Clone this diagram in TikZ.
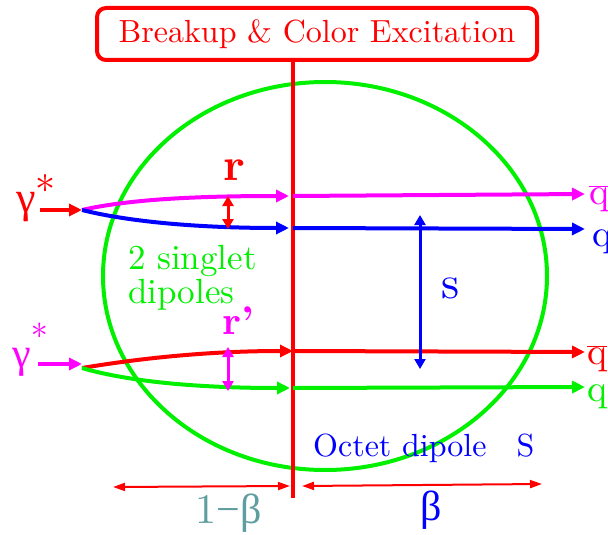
\documentclass[tikz,border=0pt]{standalone}
\usepackage{fontspec}
\usetikzlibrary{arrows.meta,positioning}
\setmainfont{lmroman10-regular}[Extension=.otf,BoldFont=lmroman10-bold]
\newfontfamily\grk{Liberation Serif}
\definecolor{Red}{HTML}{FF0000}
\definecolor{Green}{HTML}{00F000}
\definecolor{Magenta}{HTML}{FF00FF}
\definecolor{Blue}{HTML}{0000FF}
\definecolor{Teal}{HTML}{5F9EA0}
\newcommand{\fs}[1]{\fontsize{#1}{#1}\selectfont}
\newcommand{\photon}[3]{{\fs{#1}\grk γ}\raisebox{#3}{\fs{#2}*}}
\tikzset{
  track/.style={line width=4pt,-{Triangle[length=13pt,width=12pt]}},
  gap/.style={line width=3pt,{Triangle[length=10pt,width=11pt]}-{Triangle[length=10pt,width=11pt]}},
  span/.style={line width=2pt,Red,{Triangle[length=12pt,width=8pt]}-{Triangle[length=12pt,width=8pt]}},
  lbl/.style={inner sep=0pt,font=\fs{32}},
}

\begin{document}
\begin{tikzpicture}[x=1pt,y=-1pt]
  \useasboundingbox (0,0) rectangle (608,535);
  % cut and colour cloud
  \node[draw=Red,line width=4pt,rounded corners=9pt,text=Red,minimum width=440pt,minimum height=52pt,font=\fs{32}] (title) at (317,34) {Breakup \& Color Excitation};
  \draw[Green,line width=4pt] (325,276) ellipse [x radius=222pt,y radius=194pt];
  \coordinate (cut) at (293,498);
  \draw[Red,line width=4pt] (title.south -| cut) -- (cut);
  % upper photon
  \node[lbl,Red,anchor=base west] (g1) at (16,212) {\photon{44}{40}{8pt}};
  \coordinate (in1) at (40,210);
  \coordinate (v1) at (82,210);
  \coordinate (m1) at (289,196);
  \coordinate (b1) at (289,228);
  \coordinate (m2) at (585,194);
  \coordinate (b2) at (585,229);
  \draw[track,Red] (in1) -- (v1);
  \draw[track,Magenta] (v1) .. controls (130,199) and (200,196) .. (m1);
  \draw[track,Blue] (v1) .. controls (130,222) and (200,228) .. (b1);
  \draw[track,Magenta] (m1 -| cut) -- (m2);
  \draw[track,Blue] (b1 -| cut) -- (b2);
  \coordinate (r1) at (228,196);
  \coordinate (r2) at (228,229);
  \draw[gap,Red] (r1) -- (r2);
  \node[lbl,Red,font=\fs{46}\bfseries] (r) at (234,170) {r};
  % lower photon
  \node[lbl,Magenta,anchor=base west] (g2) at (12,367) {\photon{42}{34}{19pt}};
  \coordinate (in2) at (38,364);
  \coordinate (v2) at (82,368);
  \coordinate (q1) at (293,351);
  \coordinate (p1) at (290,388);
  \coordinate (q2) at (585,352);
  \coordinate (p2) at (585,387);
  \draw[track,Magenta] (in2) -- (v2 |- in2);
  \draw[track,Red] (v2) .. controls (130,360) and (200,351) .. (q1);
  \draw[track,Green] (v2) .. controls (130,382) and (200,388) .. (p1);
  \draw[track,Red] (q1 -| cut) -- (q2);
  \draw[track,Green] (p1 -| cut) -- (p2);
  \coordinate (rp1) at (228,347);
  \coordinate (rp2) at (228,391);
  \draw[gap,Magenta] (rp1) -- (rp2);
  \node[lbl,Magenta,font=\fs{40}\bfseries] (rp) at (238,321) {r'};
  % octet separation
  \coordinate (s1) at (420,215);
  \coordinate (s2) at (420,369);
  \draw[gap,Blue] (s1) -- (s2);
  \node[lbl,Blue,font=\fs{46}] (s) at (451,288) {s};
  \node[lbl,Green,align=left,anchor=base west,font=\fontsize{35}{34}\selectfont] (singlet) at (128,303) {2 singlet\\dipoles};
  % outgoing quarks
  \node[lbl,Magenta,anchor=west,font=\fs{38}] (qb1) at (589,199) {$\overline{\mbox{q}}$};
  \node[lbl,Blue,anchor=west,font=\fs{38}] (qq1) at (592,242) {q};
  \node[lbl,Red,anchor=west,font=\fs{38}] (qb2) at (587,359) {$\overline{\mbox{q}}$};
  \node[lbl,Green,anchor=west,font=\fs{38}] (qq2) at (587,397) {q};
  \node[lbl,Blue,anchor=base west] (octet) at (313,456) {Octet dipole\hspace{30pt}S};
  % fractions
  \coordinate (f1) at (113,487);
  \coordinate (f2) at (290,486);
  \coordinate (f3) at (302,486);
  \coordinate (f4) at (542,484);
  \draw[span] (f1) -- (f2);
  \draw[span] (f3) -- (f4);
  \node[lbl,Teal,font=\fs{42}] (onemb) at (229,513) {1{\grk −β}};
  \node[lbl,Blue,font=\fs{42}] (beta) at (431,510) {{\grk β}};
\end{tikzpicture}
\end{document}
